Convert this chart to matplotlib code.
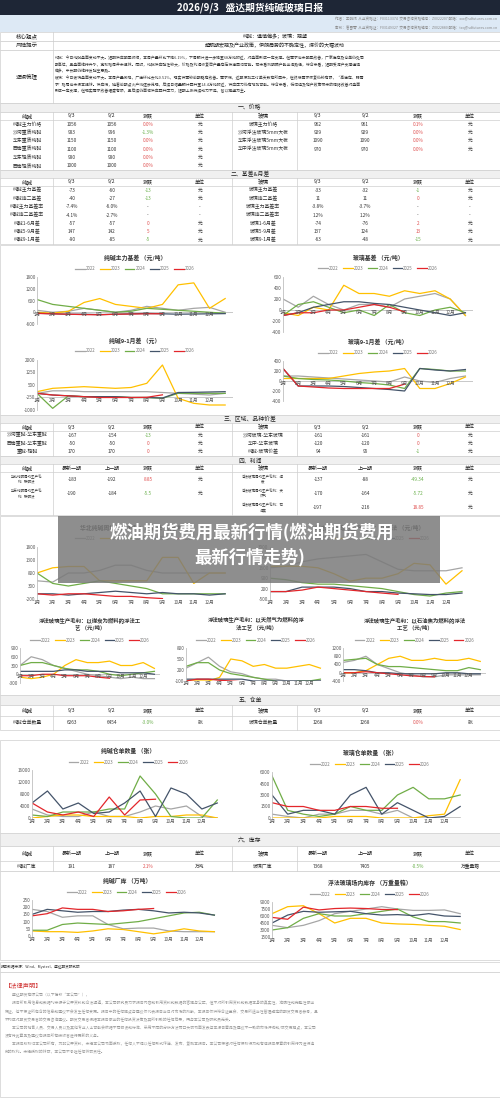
import numpy as np
import matplotlib
matplotlib.use("Agg")
import matplotlib.pyplot as plt
from matplotlib.patches import Rectangle

plt.rcParams['font.family'] = ['Noto Sans CJK SC', 'DejaVu Sans']

YEARS = ['2022', '2023', '2024', '2025', '2026']
COLORS = ['#a6a6a6', '#ffc000', '#70ad47', '#44546a', '#e3262b']
MONTHS = ['1月', '2月', '3月', '4月', '5月', '6月', '7月', '8月', '9月', '10月', '11月', '12月']

# ---------- table data ----------
price_hdr_l = ['纯碱', '9/3', '9/2', '涨跌', '单位']
price_rows_l = [['纯碱主力价格', '1056', '1056', '0.0%', '元'],
                ['沙河重质纯碱', '983', '996', '-1.3%', '元'],
                ['华东重质纯碱', '1150', '1150', '0.0%', '元'],
                ['西南重质纯碱', '1100', '1100', '0.0%', '元'],
                ['华东轻质纯碱', '980', '980', '0.0%', '元'],
                ['西南轻质纯碱', '1000', '1000', '0.0%', '元']]
price_hdr_r = ['玻璃', '9/3', '9/2', '涨跌', '单位']
price_rows_r = [['玻璃主力价格', '962', '961', '0.1%', '元'],
                ['沙河浮法玻璃5mm大板', '929', '929', '0.0%', '元'],
                ['华东浮法玻璃5mm大板', '1090', '1090', '0.0%', '元'],
                ['华中浮法玻璃5mm大板', '970', '970', '0.0%', '元']]
basis_rows_l = [['纯碱主力基差', '-73', '-60', '-13', '元'],
                ['纯碱连二基差', '-40', '-27', '-13', '元'],
                ['纯碱主力基差率', '-7.4%', '-6.0%', '-', '-'],
                ['纯碱连二基差率', '-4.1%', '-2.7%', '-', '-'],
                ['纯碱1-6月差', '-57', '-57', '0', '元'],
                ['纯碱5-9月差', '147', '142', '5', '元'],
                ['纯碱9-1月差', '-90', '-85', '-5', '元']]
basis_rows_r = [['玻璃主力基差', '-33', '-32', '-1', '元'],
                ['玻璃连二基差', '11', '11', '0', '元'],
                ['玻璃主力基差率', '-3.8%', '-3.7%', '-', '-'],
                ['玻璃连二基差率', '1.2%', '1.2%', '-', '-'],
                ['玻璃1-6月差', '-74', '-76', '2', '元'],
                ['玻璃5-9月差', '137', '124', '13', '元'],
                ['玻璃9-1月差', '-63', '-48', '-15', '元']]
region_rows_l = [['沙河重碱-华东重碱', '-167', '-154', '-13', '元'],
                 ['西南重碱-华东重碱', '-50', '-50', '0', '元'],
                 ['重碱-轻碱', '170', '170', '0', '元']]
region_rows_r = [['沙河玻璃-华东玻璃', '-161', '-161', '0', '元'],
                 ['华中-华东玻璃', '-120', '-120', '0', '元'],
                 ['纯碱-玻璃价差', '94', '95', '-1', '元']]
profit_hdr_l = ['纯碱', '最新一期', '上一期', '涨跌', '单位']
profit_rows_l = [['华北纯碱周均生产毛\n利：联碱法', '-183', '-192', '8.85', '元'],
                 ['华东纯碱周均生产毛\n利：联碱法', '-190', '-184', '-5.5', '元']]
profit_hdr_r = ['玻璃', '最新一期', '上一期', '涨跌', '单位']
profit_rows_r = [['浮法玻璃周均生产毛利：煤\n炭', '-137', '-88', '-49.34', '元'],
                 ['浮法玻璃周均生产毛利：天\n然气', '-170', '-164', '-5.72', '元'],
                 ['浮法玻璃周均生产毛利：石\n油焦', '-197', '-216', '18.85', '元']]
wr_rows_l = [['纯碱仓单数量', '6263', '6454', '-3.0%', '张']]
wr_rows_r = [['玻璃仓单数量', '1268', '1268', '0.0%', '张']]
inv_rows_l = [['纯碱厂库', '191', '187', '2.1%', '万吨']]
inv_rows_r = [['玻璃厂库', '7368', '7405', '-0.5%', '万重量箱']]

# ---------- chart data (monthly readings, Jan..Dec end) ----------
sa_basis = {'2022': [100, 0, 50, 200, 100, 0, 100, 300, 200, 100, 200, 250, 0],
            '2023': [0, -50, 50, 500, 700, 400, 300, 200, 400, 1400, 1500, 200, 700],
            '2024': [650, 400, 300, 200, 100, 0, 50, 200, 150, 100, 50, 0, -50],
            '2025': [-50, -80, -100, -100, -120, -100, -80, -60, -80, -100, -90, -80, -70],
            '2026': [-60, -80, -100, -120, -130, -100, -90, -80, -73]}
fg_basis = {'2022': [200, 50, 250, 100, 0, 100, 100, 50, 200, 250, 300, 200, -100],
            '2023': [-50, -100, 50, 0, 450, 300, 300, 250, 350, 300, 350, 200, -100],
            '2024': [-100, 100, 150, 50, -50, 0, -100, 100, -50, -100, 0, 50, -50],
            '2025': [-100, -50, 50, 100, 150, 150, 120, 100, 50, 0, -50, -100, -50],
            '2026': [-100, -50, -50, 0, 0, 50, 100, 50, -33]}
sa_spread = {'2022': [0, 150, 150, 100, 100, 100, 100, 100, 50, 0, -50, -100, 0],
             '2023': [100, 300, 350, 400, 350, 300, 350, 600, 1700, -300, -600, -700, -700],
             '2024': [0, -900, -150, -200, -200, -200, -250, -250, -300, 0, 0, 0, 0],
             '2025': [0, -100, -150, -200, -200, -200, -250, -250, -280, 50, 60, 80, 100],
             '2026': [0, -100, -150, -200, -250, -250, -250, -240, -90]}
fg_spread = {'2022': [100, 100, 80, 60, 40, 20, 0, -20, 80, 0, -30, 50, 100],
             '2023': [50, 50, 50, 50, 100, 150, 180, 200, 250, -150, -150, -50, 80],
             '2024': [100, 50, 30, 20, 0, -30, -50, -80, -150, 250, 230, 200, 200],
             '2025': [250, -100, -100, -100, -110, -130, -150, -170, -200, 250, 220, 200, 230],
             '2026': [250, -100, -120, -140, -150, -150, -150, -150, -63]}
sa_profit_n = {'2022': [500, 450, 800, 800, 900, 1100, 1100, 900, 800, 800, 800, 800, 800],
               '2023': [800, 1000, 1050, 1050, 500, 500, 500, 500, 1400, 1400, 400, 800, 800],
               '2024': [800, 400, 300, 400, 500, 400, 300, 200, 0, 0, 0, 0, 0],
               '2025': [0, 0, -50, 0, 50, 100, 50, 0, 50, 0, 0, -50, 0],
               '2026': [0, -50, 0, 0, -50, -100, -100, -150, -183]}
sa_profit_e = {'2022': [1600, 1700, 2000, 2200, 2300, 2400, 2500, 2000, 1500, 1400, 1400, 1400, 1600],
               '2023': [1700, 1700, 1700, 1600, 1200, 700, 900, 900, 1200, 1900, 1800, 500, 1400],
               '2024': [900, 800, 600, 500, 500, 400, 300, 200, 0, -200, -300, -100, 0],
               '2025': [0, 0, 300, 300, 300, 200, 0, 0, -100, -150, -200, -200, -100],
               '2026': [0, 0, 100, 300, 200, 100, 0, -100, -190]}
fg_profit_coal = {'2022': [300, 600, 500, 300, 200, 100, 0, -50, -100, -150, -100, -150, -150],
                  '2023': [-100, -150, -100, 0, 300, 500, 400, 400, 450, 300, 300, 400, 200],
                  '2024': [300, 400, 400, 300, 200, 150, 150, 100, 0, -50, 0, 50, 100],
                  '2025': [100, 100, 100, 100, 150, 150, 100, 100, 100, 50, 50, 50, 0],
                  '2026': [-50, -50, 0, 0, -50, -50, -50, -100, -137]}
fg_profit_gas = {'2022': [250, 400, 550, 300, 150, 100, 0, -50, -50, -100, -100, -100, -100],
                 '2023': [-100, -100, -100, 0, 500, 450, 300, 350, 250, 250, 300, 350, 250],
                 '2024': [300, 400, 400, 200, 100, 50, 0, -50, -100, -200, -100, -100, -50],
                 '2025': [-50, -50, -50, -50, -50, -50, -100, -100, -100, -100, -100, -100, -100],
                 '2026': [-100, -50, -50, -80, -100, -120, -150, -160, -170]}
fg_profit_oil = {'2022': [500, 600, 800, 400, 200, 0, -100, -200, -200, -100, -100, -100, -100],
                 '2023': [0, 0, 100, 400, 700, 800, 600, 600, 700, 600, 600, 700, 550],
                 '2024': [600, 650, 700, 400, 300, 300, 250, 200, 150, 100, 100, 250, 150],
                 '2025': [150, 150, 100, 0, 0, -50, -50, -50, -50, 0, 0, -50, -50],
                 '2026': [0, 0, 50, 0, -50, -100, -150, -180, -197]}
sa_wr = {'2022': [3000, 1000, 500, 500, 2000, 500, 500, 2000, 4000, 3000, 4000, 500, 0],
         '2023': [0, 500, 1000, 1000, 500, 500, 500, 0, 500, 500, 1000, 1000, 0],
         '2024': [1000, 500, 2000, 2000, 2000, 3000, 3000, 14000, 8000, 500, 0, 0, 6000],
         '2025': [5000, 9000, 3000, 5000, 1500, 2000, 5000, 9000, 500, 10000, 8000, 3000, 5000],
         '2026': [5000, 2000, 1000, 2000, 500, 7000, 1000, 6000, 6263]}
fg_wr = {'2022': [500, 200, 0, 500, 500, 1000, 1000, 500, 1000, 0, 0, 0, 0],
         '2023': [0, 0, 0, 0, 200, 200, 200, 0, 0, 0, 300, 500, 5000],
         '2024': [5500, 1000, 500, 200, 500, 1500, 1000, 1000, 3000, 4000, 2500, 2500, 3000],
         '2025': [3000, 500, 1000, 1000, 500, 3000, 4000, 500, 2000, 1000, 0, 200, 1500],
         '2026': [2000, 1500, 1500, 1000, 1000, 1500, 1500, 1268, 1268]}
sa_inv = {'2022': [185, 170, 130, 140, 140, 80, 50, 55, 55, 35, 30, 30, 30],
          '2023': [35, 30, 30, 25, 35, 50, 45, 30, 15, 30, 50, 35, 30],
          '2024': [40, 40, 80, 90, 85, 80, 90, 100, 120, 140, 160, 165, 145],
          '2025': [150, 185, 175, 165, 170, 170, 180, 185, 175, 160, 165, 160, 145],
          '2026': [140, 155, 195, 185, 185, 170, 175, 185, 191]}
fg_inv = {'2022': [4000, 3500, 4000, 5000, 6500, 7000, 7500, 8000, 7500, 7200, 7200, 7300, 6500],
          '2023': [6500, 8000, 8200, 6500, 4500, 5500, 5500, 4500, 4300, 4200, 4000, 3800, 3100],
          '2024': [3000, 3500, 5500, 6500, 6000, 6000, 6500, 7000, 7500, 5800, 4800, 4800, 4500],
          '2025': [4500, 6200, 7000, 6800, 6900, 7000, 6500, 6200, 6300, 6100, 6500, 6000, 5900],
          '2026': [5700, 5300, 7900, 7300, 7600, 7700, 7600, 7400, 7368]}

W, H = 500, 1099
fig = plt.figure(figsize=(5, 10.99), dpi=100)
bg = fig.add_axes([0, 0, 1, 1])
bg.set_xlim(0, W); bg.set_ylim(H, 0); bg.axis('off')

LINE = '#cfcfcf'
def rect(x, y, w, h, fc, ec='none', lw=0.5):
    bg.add_patch(Rectangle((x, y), w, h, facecolor=fc, edgecolor=ec, lw=lw))
def txt(x, y, s, size=3.6, color='#222222', ha='center', **kw):
    bg.text(x, y, s, fontsize=size, color=color, ha=ha, va='center', **kw)

# header
rect(0, 0, W, 15, '#1e2636')
txt(250, 7.5, '2026/9/3   盛达期货纯碱玻璃日报', size=7, color='white', weight='bold')
rect(0, 15, W, 9, '#dde9f5'); rect(0, 24, W, 8, '#dde9f5')
txt(497, 19.5, '作者：王晓玮  从业资格证：F03113374  交易咨询资格编号：Z0022207 邮箱：xxx@sdfutures.com.cn', size=2.6, color='#888888', ha='right')
txt(497, 28, '审核：唐雪琴  从业资格证：F03149327  交易咨询资格编号：Z0022880 邮箱：txq@sdfutures.com.cn', size=2.6, color='#888888', ha='right')
for y0, y1, lab, content in [(32, 41, '核心观点', '纯碱：谨慎偏多；玻璃：观望'),
                             (41, 50, '风险提示', '超预期宏观及产业政策，伊朗局势的不确定性，煤价的大幅波动')]:
    rect(0, y0, W, y1 - y0, 'white', LINE)
    bg.plot([53, 53], [y0, y1], color=LINE, lw=0.5)
    txt(27, (y0 + y1) / 2, lab, size=4)
    txt(275, (y0 + y1) / 2, content, size=3.6)
rect(0, 50, W, 53, 'white', LINE)
bg.plot([53, 53], [50, 103], color=LINE, lw=0.5)
txt(27, 76, '逻辑梳理', size=4)
logic = ("纯碱：今日纯碱盘面变动不大。短期供应明显收缩，本周产量环比下降6.19%，下周预计进一步降至68万吨附近，对盘面形成一定支撑。但需求尚未明显改善，厂家库存及仓单仍处同\n"
         "期高位，且盘面维持升水，宽松格局并未扭转。同时，纯碱供应弹性较大，价格及利润修复后产量存在快速回归可能。若未看到明确产能出清路径，综合来看，短期受减产支撑谨慎\n"
         "偏多，中长期仍维持反弹空思路。\n"
         "玻璃：今日玻璃盘面变动不大。本周产量微降，厂库环比去化0.51%，现实供需较前期略有改善。需求端，近期深加工订单天数有所回升，但终端需求恢复仍较有限，“高库存、弱需\n"
         "求”格局尚未根本扭转。供应端，随着前期点火产线逐步兑现，后续日熔量预计回升至14.4万吨附近，供应压力仍有增加可能。综合来看，低估值及地产政策带来的情绪改善对盘面\n"
         "形成一定支撑，但现实需求改善幅度有限，且后续仍面临供应回升压力，短期上涨持续动力不足，暂以观望为主。")
bg.text(55, 56, logic, fontsize=2.75, color='#333333', va='top', ha='left', linespacing=1.55)

XL = [27, 72, 112, 148, 200]
XR = [263, 318, 365, 418, 470]
def val_color(s, col):
    if col != 3 or s in ('-',):
        return '#333333'
    return '#6ab04c' if s.startswith('-') else '#e05050'

def section(y, title, h=9):
    rect(0, y, W, h, '#f0f0f0', LINE)
    txt(250, y + h / 2, title, size=4.2)

def table(y, rows_l, rows_r, hdr_l, hdr_r, rh=8.3, hh=8, lsize=3.5, nrows=None):
    n = nrows or max(len(rows_l), len(rows_r))
    total = hh + n * rh
    rect(0, y, W, total, 'white', LINE)
    bg.plot([0, W], [y + hh, y + hh], color=LINE, lw=0.5)
    for xv in (53, 232, 297):
        bg.plot([xv, xv], [y, y + total], color=LINE, lw=0.5)
    for i, h in enumerate(hdr_l):
        txt(XL[i], y + hh / 2, h, size=4 if i == 0 else 3.6)
    for i, h in enumerate(hdr_r):
        txt(XR[i], y + hh / 2, h, size=4 if i == 0 else 3.6)
    for rows, xs in ((rows_l, XL), (rows_r, XR)):
        for r, row in enumerate(rows):
            yy = y + hh + (r + 0.5) * rh
            for c, s in enumerate(row):
                sz = lsize if c == 0 else 3.4
                txt(xs[c], yy, s, size=sz, color=val_color(s, c), linespacing=1.3)
    return y + total

section(103, '一、价格')
table(112, price_rows_l, price_rows_r, price_hdr_l, price_hdr_r)
section(170, '二、基差&月差')
table(178, basis_rows_l, basis_rows_r, price_hdr_l, price_hdr_r)
section(415, '三、区域、品种价差')
table(423, region_rows_l, region_rows_r, price_hdr_l, price_hdr_r)
section(456, '四、利润')
table(464, profit_rows_l, profit_rows_r, profit_hdr_l, profit_hdr_r, rh=14.3, lsize=2.5, nrows=3)
section(695, '五、仓单', h=10)
table(705, wr_rows_l, wr_rows_r, price_hdr_l, price_hdr_r, rh=14, hh=11)
section(833, '六、库存', h=13)
table(846, inv_rows_l, inv_rows_r, profit_hdr_l, profit_hdr_r, rh=10, hh=15)

# chart frames
for y0, y1 in [(245, 415), (516, 695), (740, 833), (871, 960)]:
    rect(0, y0, W, y1 - y0, 'white', LINE)

def chart(px, py, pw, ph, title, data, ylim, yticks, ty, ly, xaxis_y=None, tsize=4.2):
    ax = fig.add_axes([px / W, 1 - (py + ph) / H, pw / W, ph / H])
    for yr, col in zip(YEARS, COLORS):
        v = data[yr]
        ax.plot(np.arange(len(v)), v, color=col, lw=0.9, label=yr)
    ax.set_xlim(0, 12.5); ax.set_ylim(*ylim)
    ax.set_yticks(yticks)
    ax.set_yticklabels([str(t) for t in yticks], fontsize=3.3, color='#555555')
    ax.set_xticks(np.arange(12))
    ax.set_xticklabels(MONTHS, fontsize=3.3, color='#555555')
    base = ylim[0] if xaxis_y is None else xaxis_y
    if xaxis_y is not None:
        ax.axhline(xaxis_y, color='#bfbfbf', lw=0.6, zorder=0)
    ax.spines[['top', 'right', 'bottom']].set_visible(False)
    ax.spines['left'].set_color('#bfbfbf'); ax.spines['left'].set_lw(0.6)
    ax.tick_params(length=0, pad=1)
    if xaxis_y is not None:
        ax.set_xticklabels([])
        for i, m in enumerate(MONTHS):
            ax.text(i, xaxis_y, m, fontsize=3.3, color='#555555', ha='center', va='top')
    fig.text((px + pw / 2) / W, 1 - ty / H, title, fontsize=tsize, ha='center', va='center',
             color='#333333', weight='bold', linespacing=1.5)
    h = [plt.Line2D([], [], color=c, lw=0.9) for c in COLORS]
    fig.legend(h, YEARS, loc='center', bbox_to_anchor=((px + pw / 2) / W, 1 - ly / H), ncol=5,
               fontsize=3.1, frameon=False, handlelength=2.2, columnspacing=1.0, handletextpad=0.3,
               labelcolor='#777777')
    return ax

chart(37, 277, 196, 47, '纯碱主力基差 （元/吨）', sa_basis, (-600, 1800), [-600, 0, 600, 1200, 1800], 258, 269, xaxis_y=0)
chart(283, 277, 190, 55, '玻璃基差 （元/吨）', fg_basis, (-400, 600), [-400, -200, 0, 200, 400, 600], 258, 268, xaxis_y=0)
chart(37, 360, 196, 50, '纯碱9-1月差 （元）', sa_spread, (-1000, 2000), [-1000, -250, 500, 1250, 2000], 341, 351, xaxis_y=-250)
chart(283, 361, 190, 40, '玻璃9-1月差 （元/吨）', fg_spread, (-400, 400), [-400, -200, 0, 200, 400], 342, 353, xaxis_y=0)
chart(37, 547, 196, 52, '华北纯碱周均生产毛利：联碱法 （元/吨）', sa_profit_n, (-200, 1800), [-200, 300, 800, 1300, 1800], 528, 538)
chart(270, 547, 200, 52, '华东纯碱周均生产毛利：联碱法 （元/吨）', sa_profit_e, (-500, 3000), [-500, 200, 900, 1600, 2300, 3000], 528, 538)
chart(20, 648, 140, 35, '浮法玻璃生产毛利：以煤炭为燃料的浮法工\n艺 （元/吨）', fg_profit_coal, (-300, 900), [-300, 0, 300, 600, 900], 624, 640, xaxis_y=0, tsize=3.9)
chart(186, 648, 140, 33, '浮法玻璃生产毛利：以天然气为燃料的浮\n法工艺 （元/吨）', fg_profit_gas, (-100, 800), [-100, 200, 500, 800], 624, 640, xaxis_y=-100, tsize=3.9)
chart(343, 648, 143, 33, '浮法玻璃生产毛利：以石油焦为燃料的浮法\n工艺 （元/吨）', fg_profit_oil, (-400, 1200), [-400, 0, 400, 800, 1200], 624, 640, xaxis_y=0, tsize=3.9)
chart(32, 770, 193, 48, '纯碱仓单数量 （张）', sa_wr, (0, 16000), [0, 4000, 8000, 12000, 16000], 751, 762)
chart(272, 772, 196, 46, '玻璃仓单数量 （张）', fg_wr, (0, 6000), [0, 1500, 3000, 4500, 6000], 753, 764)
chart(32, 900, 190, 36, '纯碱厂库 （万吨）', sa_inv, (0, 250), [0, 50, 100, 150, 200, 250], 881, 892)
chart(272, 902, 196, 35, '浮法玻璃场内库存 （万重量箱）', fg_inv, (1500, 9000), [1500, 3000, 4500, 6000, 7500, 9000], 883, 894)

# overlay banner
ov = fig.add_axes([0, 0, 1, 1], zorder=10); ov.set_xlim(0, W); ov.set_ylim(H, 0); ov.axis('off')
ov.add_patch(Rectangle((58, 516), 382, 67, facecolor='#7a7a7a', alpha=0.85, edgecolor='none'))
ov.text(252, 532, '燃油期货费用最新行情(燃油期货费用', fontsize=12.5, color='white', weight='bold', ha='center', va='center')
ov.text(250, 557, '最新行情走势)', fontsize=12.5, color='white', weight='bold', ha='center', va='center')

# footer
rect(0, 962, W, 10, 'white', LINE)
txt(1, 967, '报告数据来源：Wind、Mysteel、盛达期货研究院', size=2.6, ha='left', color='#333333')
rect(0, 972, W, 125, 'white', LINE)
txt(5, 985, '【法律声明】', size=4.5, ha='left', color='#d03030')
legal = ("        盛达期货有限公司（以下简称“本公司”），\n"
         "        报告所引用信息和数据均来源于公开资料和合法渠道，本公司研究员力求报告内容和引用资料和数据的客观与公正，但不对所引用资料和数据本身的真实性、准确性和完整性做出\n"
         "保证，也不保证所包含的信息和建议不会发生任何变更。报告中的任何观点与建议仅代表报告当日对市场的判断，本报告仅供符合证监会、交易所适当性管理规定的期货交易者参考，且\n"
         "不构成对期货交易者的交易咨询建议。期货交易者根据本报告做出的任何投资决策及其所引致的任何后果，概与本公司及研究员无关。\n"
         "        本公司的销售人员、交易人员以及其他专业人士可能会依据不同假设和标准、采用不同的分析方法而口头或书面发表与本报告意见及建议不一致的市场评论和/或交易观点，本公司\n"
         "没有将此意见及建议向报告所有接收者进行更新的义务。\n"
         "        本报告版权归本公司所有，为非公开资料，未经本公司书面授权，任何人不得以任何形式传送、发布、复制本报告。本公司保留对任何侵权行为和有悖报告原意的引用行为进行追\n"
         "究的权利。未经授权的转载，本公司不承担任何转载责任。")
bg.text(5, 993, legal, fontsize=2.75, color='#9a9a9a', va='top', ha='left', linespacing=2.0)

fig.savefig('out.png', dpi=100)
